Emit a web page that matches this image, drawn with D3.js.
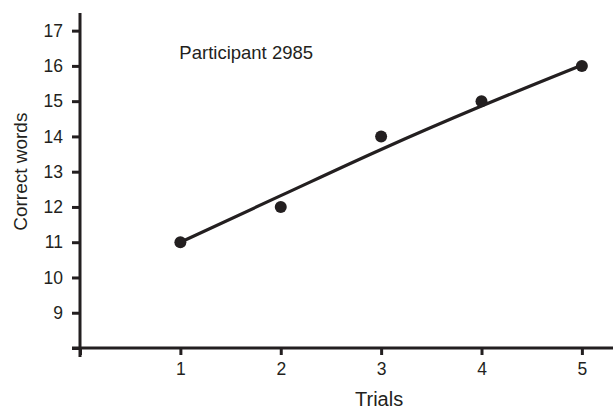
<!DOCTYPE html>
<html>
<head>
<meta charset="utf-8">
<script src="https://cdn.jsdelivr.net/npm/d3@7"></script>
<style>
	body { margin: 0; background: #fff; }
	text { font-family: "Liberation Sans", Arial, sans-serif; fill: #231f20; }
</style>
</head>
<body>
<script>
'use strict';

// observed words per trial
const trials = [1, 2, 3, 4, 5];
const correct = [11, 12, 14, 15, 16];
// fitted learning curve
const fitTrials = [1, 2, 3, 4, 5];
const fitValues = [11.0, 12.32, 13.63, 14.86, 16.02];

const xTicks = [0, 1, 2, 3, 4, 5];
const yTicks = [8, 9, 10, 11, 12, 13, 14, 15, 16, 17];
const label = "Participant 2985";

const params = {
	width: 613,
	height: 409,
	left: 80,
	right: 613,
	top: 13,
	bottom: 348,
	ink: "#231f20"
};

const svg = d3.select("body")
	.append("svg")
	.attr("width", params.width)
	.attr("height", params.height);

const xScale = d3.scaleLinear()
	.domain([0, 5.31])
	.range([params.left, params.right]);

const yScale = d3.scaleLinear()
	.domain([8, 17.5])
	.range([params.bottom, params.top]);

// y axis
const yAxis = svg.append("g")
	.attr("transform", `translate(${params.left},0)`)
	.call(d3.axisLeft(yScale)
		.tickValues(yTicks)
		.tickSize(8)
		.tickPadding(9)
		.tickFormat(d => d === 8 ? "" : d))
yAxis.select(".domain").remove();
yAxis.append("line")
	.attr("x1", 0).attr("x2", 0)
	.attr("y1", params.top).attr("y2", params.bottom + 9)
	.attr("stroke", params.ink).attr("stroke-width", 3);
yAxis.selectAll(".tick line").attr("stroke", params.ink).attr("stroke-width", 3);
yAxis.selectAll(".tick text").style("font-size", "17.5px");

// x axis
const xAxis = svg.append("g")
	.attr("transform", `translate(0,${params.bottom})`)
	.call(d3.axisBottom(xScale)
		.tickValues(xTicks)
		.tickSize(7)
		.tickPadding(8)
		.tickFormat(d => d === 0 ? "" : d))
xAxis.select(".domain").remove();
xAxis.append("line")
	.attr("x1", params.left - 8).attr("x2", params.right)
	.attr("y1", 0).attr("y2", 0)
	.attr("stroke", params.ink).attr("stroke-width", 3);
xAxis.selectAll(".tick line").attr("stroke", params.ink).attr("stroke-width", 3);
xAxis.selectAll(".tick text").style("font-size", "17.5px");

// titles
svg.append("text")
	.attr("x", xScale(2.98))
	.attr("y", 406)
	.attr("text-anchor", "middle")
	.style("font-size", "20px")
	.text("Trials");

svg.append("text")
	.attr("transform", `translate(27,${yScale(13)}) rotate(-90)`)
	.attr("text-anchor", "middle")
	.style("font-size", "19px")
	.text("Correct words");

svg.append("text")
	.attr("x", xScale(0.99))
	.attr("y", yScale(16.2))
	.style("font-size", "18.5px")
	.text(label);

// fitted curve
const line = d3.line()
	.x((d, i) => xScale(fitTrials[i]))
	.y(d => yScale(d))
	.curve(d3.curveMonotoneX);

svg.append("path")
	.datum(fitValues)
	.attr("fill", "none")
	.attr("stroke", params.ink)
	.attr("stroke-width", 3.2)
	.attr("d", line);

// observed points
svg.append("g")
	.selectAll("circle")
	.data(correct)
	.join("circle")
	.attr("cx", (d, i) => xScale(trials[i]))
	.attr("cy", d => yScale(d))
	.attr("r", 6)
	.attr("fill", params.ink);
</script>
</body>
</html>
